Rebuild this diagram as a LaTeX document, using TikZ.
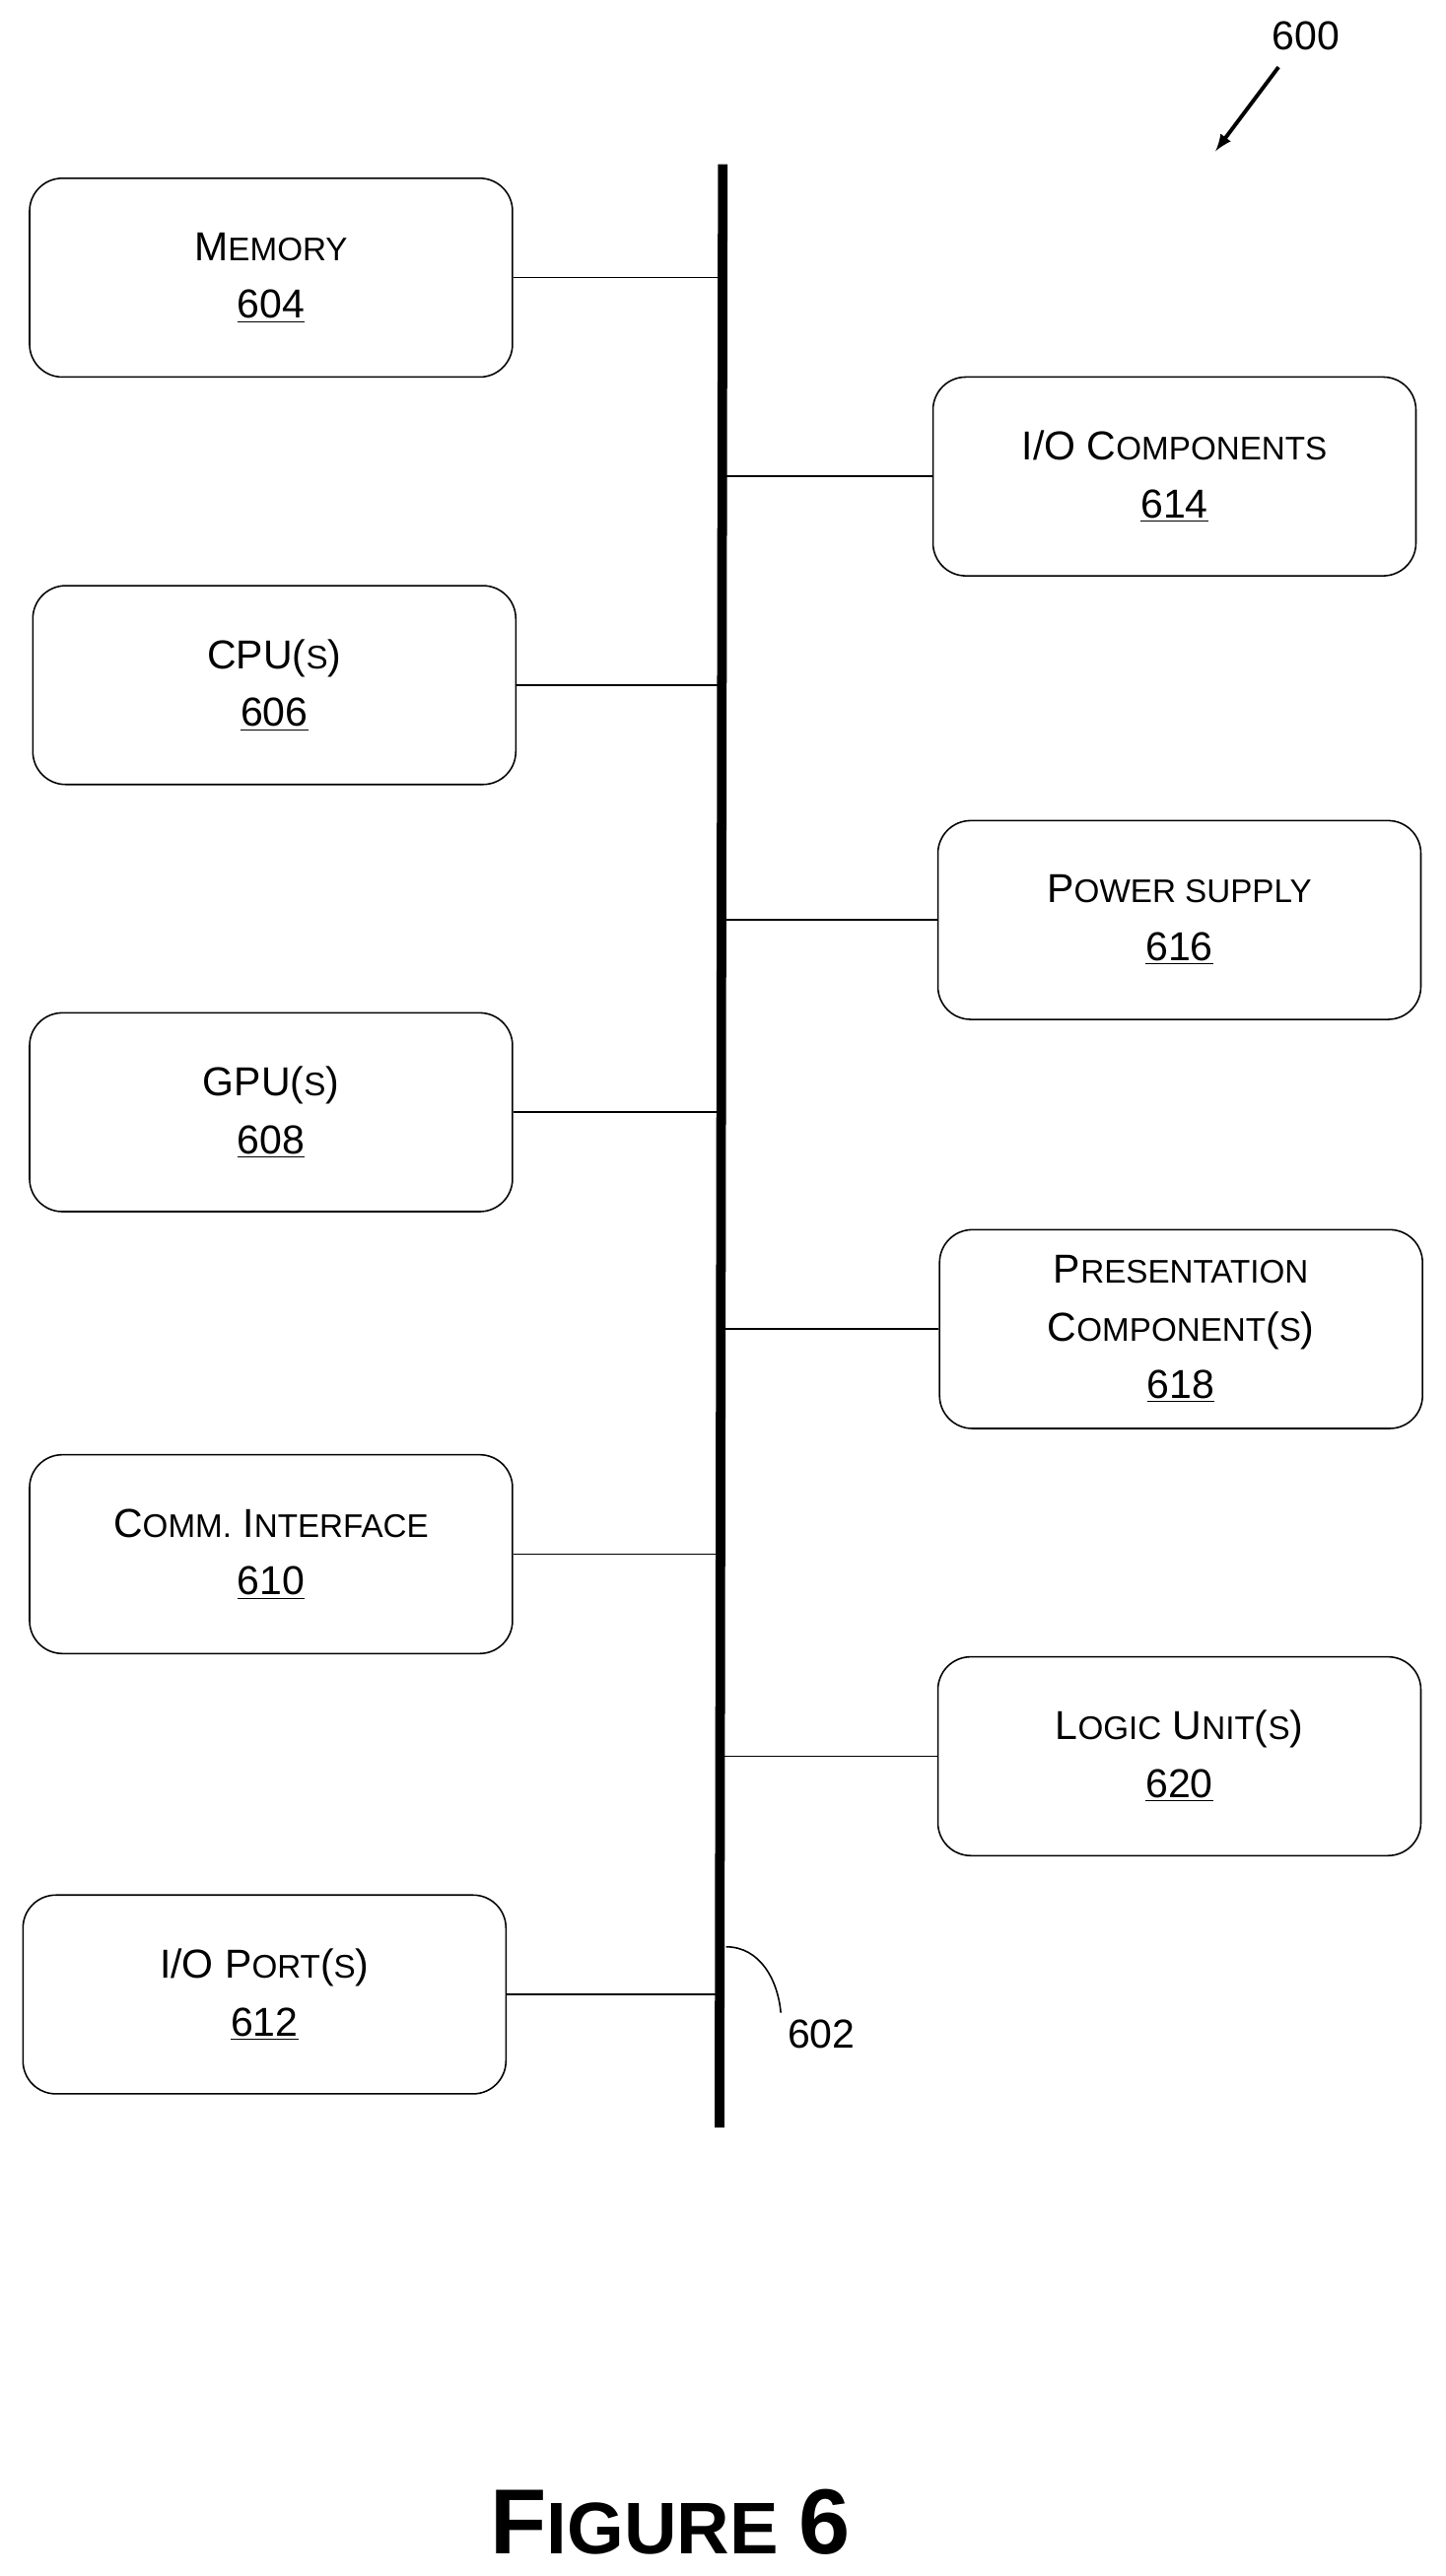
\documentclass[tikz,border=0pt]{standalone}
\usepackage{fontspec}
\setmainfont{Liberation Sans}
\usetikzlibrary{positioning}
\newcommand{\smc}[2]{#1{\fontsize{17}{24}\selectfont\MakeUppercase{#2}}}
\tikzset{
  box/.style = {draw, thick, rounded corners=0.6cm, minimum width=8.82cm,
    minimum height=3.63cm, align=center, font=\fontsize{21}{30}\selectfont},
  link/.style = {thick},
  >=latex
}
\begin{document}
\begin{tikzpicture}[x=0.03cm,y=-0.03cm]
  \useasboundingbox (0,0) rectangle (880,1568);
  % bus
  \coordinate (bt) at (440,100);
  \coordinate (bb) at (438,1295);
  \draw[line width=5pt] (bt) -- (bb);
  % left side
  \node[box] (mem) at (165,169) {\smc{M}{emory}\\\underline{604}};
  \node[box] (cpu) at (167,417) {CPU(\smc{}{s})\\\underline{606}};
  \node[box] (gpu) at (165,677) {GPU(\smc{}{s})\\\underline{608}};
  \node[box] (comm) at (165,946) {\smc{C}{omm.} \smc{I}{nterface}\\\underline{610}};
  \node[box] (port) at (161,1214) {I/O \smc{P}{ort}(\smc{}{s})\\\underline{612}};
  % right side
  \node[box] (io) at (715,290) {I/O \smc{C}{omponents}\\\underline{614}};
  \node[box] (pow) at (718,560) {\smc{P}{ower supply}\\\underline{616}};
  \node[box] (pres) at (719,809) {\smc{P}{resentation}\\\smc{C}{omponent}(\smc{}{s})\\\underline{618}};
  \node[box] (logic) at (718,1069) {\smc{L}{ogic} \smc{U}{nit}(\smc{}{s})\\\underline{620}};
  % links
  \foreach \n in {mem,cpu,gpu,comm,port} { \draw[link] (\n.east) -- (\n.east -| bt); }
  \foreach \n in {io,pow,pres,logic} { \draw[link] (\n.west) -- (\n.west -| bt); }
  % labels
  \node[font=\fontsize{21}{30}\selectfont] (l600) at (795,22) {600};
  \coordinate (a600) at (740,92);
  \draw[->,line width=2pt] (l600.south west) ++(8,6) -- (a600);
  \coordinate (c602) at (442,1185);
  \node[font=\fontsize{21}{30}\selectfont] (l602) at (500,1238) {602};
  \draw[thick] (c602) to[out=0,in=95] (l602.north west);
  \node[font=\bfseries\fontsize{48}{56}\selectfont] (fig) at (408,1535) {F\fontsize{38}{44}\selectfont IGURE \fontsize{48}{56}\selectfont 6};
\end{tikzpicture}
\end{document}
